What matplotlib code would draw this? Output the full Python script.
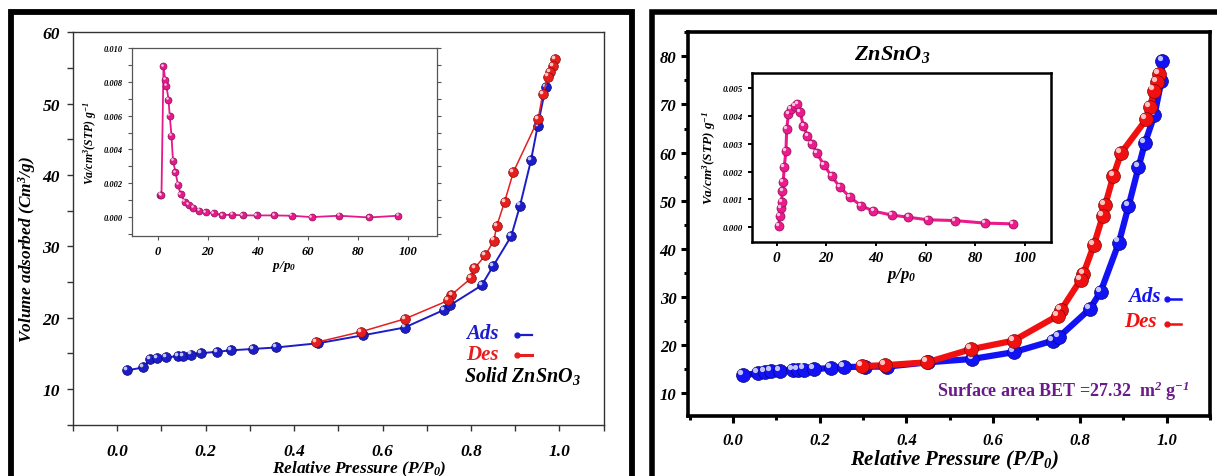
import numpy as np
import matplotlib.pyplot as plt
from matplotlib.transforms import offset_copy
from matplotlib.ticker import MultipleLocator, FormatStrFormatter

plt.rcParams['font.family'] = ['Liberation Serif', 'DejaVu Serif']
plt.rcParams['font.weight'] = 'bold'
plt.rcParams['font.style'] = 'italic'
plt.rcParams['axes.labelweight'] = 'bold'
plt.rcParams['mathtext.fontset'] = 'custom'
plt.rcParams['mathtext.rm'] = 'Liberation Serif:italic:bold'
plt.rcParams['mathtext.it'] = 'Liberation Serif:italic:bold'
plt.rcParams['mathtext.bf'] = 'Liberation Serif:bold'

# ---- solid ZnSnO3 isotherm (left)
solid_ads_p = [0.023, 0.059, 0.075, 0.090, 0.110, 0.137, 0.149, 0.166, 0.189, 0.226, 0.257,
               0.308, 0.359, 0.455, 0.555, 0.650, 0.740, 0.752, 0.824, 0.850, 0.891, 0.911,
               0.936, 0.951, 0.969]
solid_ads_v = [12.6, 13.0, 14.2, 14.3, 14.4, 14.6, 14.65, 14.8, 15.0, 15.2, 15.4,
               15.6, 15.8, 16.4, 17.5, 18.6, 21.1, 21.7, 24.5, 27.2, 31.4, 35.7,
               42.1, 46.9, 52.3]
solid_des_p = [0.991, 0.985, 0.979, 0.975, 0.962, 0.952, 0.896, 0.876, 0.858, 0.852, 0.832,
               0.808, 0.800, 0.756, 0.749, 0.650, 0.551, 0.449]
solid_des_v = [56.2, 55.3, 54.4, 53.8, 51.3, 47.8, 40.4, 36.2, 32.8, 30.8, 28.7,
               26.9, 25.5, 23.2, 22.4, 19.8, 18.0, 16.5]

# pore size distribution of the solid sample (left inset)
solid_psd_x = [1.0, 1.5, 2.3, 3.0, 3.5, 4.3, 4.8, 5.5, 6.1, 7.1, 8.1, 9.2, 10.8, 12.4,
               14.2, 16.6, 19.1, 22.3, 25.7, 29.8, 34.0, 39.5, 46.5, 53.5, 61.5, 72.5,
               84.5, 96.0]
solid_psd_y = [0.00133, 0.00130, 0.00892, 0.00813, 0.00777, 0.00695, 0.00600, 0.00482,
               0.00334, 0.00266, 0.00191, 0.00134, 0.00092, 0.00073, 0.00055, 0.00039,
               0.00029, 0.00023, 0.00012, 0.00014, 0.00010, 0.00010, 0.00010, 0.00008,
               0.00000, 0.00008, -0.00002, 0.00008]

# ---- ZnSnO3 isotherm (right)
zn_ads_p = [0.023, 0.058, 0.073, 0.088, 0.108, 0.138, 0.149, 0.164, 0.186, 0.225, 0.255,
            0.305, 0.355, 0.450, 0.552, 0.647, 0.738, 0.751, 0.823, 0.848, 0.890, 0.912,
            0.935, 0.950, 0.972, 0.988, 0.990]
zn_ads_v = [13.7, 14.15, 14.4, 14.5, 14.6, 14.8, 14.8, 14.9, 15.0, 15.2, 15.4,
            15.5, 15.5, 16.4, 17.1, 18.5, 20.9, 21.6, 27.5, 31.1, 41.3, 48.8,
            56.9, 62.0, 67.8, 74.9, 79.1]
zn_des_p = [0.982, 0.977, 0.971, 0.962, 0.953, 0.895, 0.877, 0.858, 0.853, 0.832, 0.808,
            0.802, 0.756, 0.749, 0.647, 0.548, 0.448, 0.351, 0.298]
zn_des_v = [76.4, 74.6, 72.9, 69.4, 66.9, 59.9, 55.1, 49.0, 46.9, 40.7, 34.8,
            33.6, 27.2, 26.1, 20.9, 19.1, 16.4, 15.8, 15.6]

# pore size distribution (right inset)
zn_psd_x = [0.9, 1.3, 1.7, 2.0, 2.4, 2.7, 3.1, 3.8, 4.1, 4.8, 5.8, 7.4, 8.4, 9.5, 10.8,
            12.4, 14.4, 16.2, 19.1, 22.2, 25.6, 29.6, 34.0, 39.0, 46.3, 53.1, 60.8,
            71.9, 83.8, 95.2]
zn_psd_y = [0.00006, 0.00040, 0.00068, 0.00092, 0.00132, 0.00164, 0.00216, 0.00276,
            0.00354, 0.00408, 0.00426, 0.00435, 0.00442, 0.00414, 0.00366, 0.00330,
            0.00300, 0.00267, 0.00224, 0.00183, 0.00144, 0.00108, 0.00078, 0.00058,
            0.00044, 0.00036, 0.00027, 0.00024, 0.00015, 0.00012]

bet_area = 27.32

W, H = 1217, 477
fig = plt.figure(figsize=(W / 100, H / 100), dpi=100)


def rect(left, top, right, bottom):
    return [left / W, 1 - bottom / H, (right - left) / W, (bottom - top) / H]


def spheres(ax, x, y, color, edge, ms, lw, z):
    ax.plot(x, y, '-', color=color, lw=lw, zorder=z)
    ax.plot(x, y, 'o', ms=ms, color=color, mec=edge, mew=0.5, zorder=z + 0.1)
    shift = offset_copy(ax.transData, fig=fig, x=-ms * 0.2, y=ms * 0.22, units='points')
    ax.plot(x, y, 'o', ms=ms * 0.38, color='white', alpha=0.75, mew=0,
            transform=shift, zorder=z + 0.2)


# outer black frames around the two panels
fig.add_artist(plt.Rectangle((11 / W, -0.1), (632 - 11) / W, 1.1 - 13 / H,
                             transform=fig.transFigure, fill=False, ec='black', lw=4.2))
fig.add_artist(plt.Rectangle((651.5 / W, -0.1), 0.5, 1.1 - 12.5 / H,
                             transform=fig.transFigure, fill=False, ec='black', lw=4))

# ---------------- left panel
ax1 = fig.add_axes(rect(73, 33.3, 603.6, 425.5))
spheres(ax1, solid_ads_p, solid_ads_v, '#1c1cc8', '#0a0a70', 7.0, 1.4, 3)
spheres(ax1, solid_des_p, solid_des_v, '#e61e1e', '#8a0a0a', 7.0, 1.1, 4)
ax1.set_xlim(-0.1, 1.1)
ax1.set_ylim(5, 60)
ax1.xaxis.set_major_locator(MultipleLocator(0.2))
ax1.xaxis.set_minor_locator(MultipleLocator(0.1))
ax1.yaxis.set_major_locator(MultipleLocator(10))
ax1.yaxis.set_minor_locator(MultipleLocator(5))
ax1.xaxis.set_major_formatter(FormatStrFormatter('%.1f'))
for s in ax1.spines.values():
    s.set_linewidth(1.0)
    s.set_color('#333333')
ax1.tick_params(which='both', direction='out', width=1.0, color='#333333', labelsize=12.5)
ax1.tick_params(which='both', length=4.5)
ax1.tick_params(axis='x', pad=9)
ax1.tick_params(axis='y', pad=5)
ax1.set_xlabel('Relative Pressure (P/P$_0$)', fontsize=12.5)
ax1.xaxis.set_label_coords(0.54, -0.087)
ax1.set_ylabel('Volume adsorbed (Cm$^3$/g)', fontsize=12.5)
ax1.yaxis.set_label_coords(-0.066, 0.45)

ax1.text(0.789, 17.8, 'Ads', color='#1c1cc8', fontsize=15, va='center')
ax1.text(0.789, 14.9, 'Des', color='#e61e1e', fontsize=15, va='center')
ax1.text(0.784, 12.0, 'Solid ZnSnO$_3$', color='black', fontsize=14.5, va='center')
ax1.plot([0.905, 0.937], [17.6, 17.6], color='#1c1cc8', lw=1.6)
ax1.plot([0.905], [17.6], 'o', ms=3.5, color='#1c1cc8')
ax1.plot([0.905, 0.937], [14.8, 14.8], color='#e61e1e', lw=2.2)
ax1.plot([0.905], [14.8], 'o', ms=3.5, color='#e61e1e')

ins1 = fig.add_axes(rect(131.7, 49, 436.7, 236.7))
spheres(ins1, solid_psd_x, solid_psd_y, '#e5198a', '#8a0f55', 5.0, 1.3, 3)
ins1.set_xlim(-10.4, 111.5)
ins1.set_ylim(-0.0011, 0.010)
ins1.xaxis.set_major_locator(MultipleLocator(20))
ins1.yaxis.set_major_locator(MultipleLocator(0.002))
ins1.yaxis.set_minor_locator(MultipleLocator(0.001))
ins1.yaxis.set_major_formatter(FormatStrFormatter('%.3f'))
for s in ins1.spines.values():
    s.set_linewidth(0.9)
    s.set_color('#555555')
ins1.tick_params(which='both', direction='out', width=0.8, color='#555555', length=3)
ins1.tick_params(axis='y', labelsize=6)
ins1.tick_params(axis='x', labelsize=9)
ins1.tick_params(axis='y', which='both', right=True)
ins1.set_xlabel('p/p$_0$', fontsize=9.5, labelpad=1)
ins1.set_ylabel('Va/cm$^3$(STP) g$^{-1}$', fontsize=8.5, labelpad=3)

# ---------------- right panel
ax2 = fig.add_axes(rect(688.3, 33.3, 1210, 416.7))
spheres(ax2, zn_ads_p, zn_ads_v, '#1212f5', '#06067a', 10, 4.5, 3)
spheres(ax2, zn_des_p, zn_des_v, '#f01010', '#820606', 10, 4.5, 4)
ax2.set_xlim(-0.103, 1.1)
ax2.set_ylim(5.3, 85)
ax2.xaxis.set_major_locator(MultipleLocator(0.2))
ax2.xaxis.set_minor_locator(MultipleLocator(0.1))
ax2.yaxis.set_major_locator(MultipleLocator(10))
ax2.yaxis.set_minor_locator(MultipleLocator(5))
ax2.xaxis.set_major_formatter(FormatStrFormatter('%.1f'))
for s in ax2.spines.values():
    s.set_linewidth(2.6)
    s.set_color('black')
ax2.tick_params(which='both', direction='out', width=2.2, labelsize=12)
ax2.tick_params(which='major', length=5)
ax2.tick_params(which='minor', length=3)
ax2.tick_params(axis='x', pad=7)
ax2.set_xlabel('Relative Pressure (P/P$_0$)', fontsize=15)
ax2.xaxis.set_label_coords(0.51, -0.085)

ax2.text(0.366, 80.5, 'ZnSnO$_3$', fontsize=16, ha='center', va='center')
ax2.text(0.912, 30.2, 'Ads', color='#1212f5', fontsize=15, va='center')
ax2.text(0.903, 25.0, 'Des', color='#f01010', fontsize=15, va='center')
ax2.plot([1.0, 1.033], [29.6, 29.6], color='#1212f5', lw=1.8)
ax2.plot([1.0], [29.6], 'o', ms=3.5, color='#1212f5')
ax2.plot([1.0, 1.033], [24.4, 24.4], color='#f01010', lw=1.8)
ax2.plot([1.0], [24.4], 'o', ms=3.5, color='#f01010')
ax2.text(0.47, 10.6, 'Surface area BET =%.2f  m$^{\\mathbf{2}}$ g$^{\\mathbf{-1}}$' % bet_area,
         color='#6a1a8a', fontsize=13, fontstyle='normal', va='center')

ins2 = fig.add_axes(rect(751.7, 74, 1050.7, 242.7))
spheres(ins2, zn_psd_x, zn_psd_y, '#ec1a8c', '#8a0f55', 6.5, 2.2, 3)
ins2.set_xlim(-10, 110.4)
ins2.set_ylim(-0.00052, 0.00555)
ins2.xaxis.set_major_locator(MultipleLocator(20))
ins2.yaxis.set_major_locator(MultipleLocator(0.001))
ins2.yaxis.set_major_formatter(FormatStrFormatter('%.3f'))
for s in ins2.spines.values():
    s.set_linewidth(1.8)
    s.set_color('black')
ins2.tick_params(which='both', direction='out', width=1.4, length=3)
ins2.tick_params(axis='y', labelsize=6.5)
ins2.tick_params(axis='x', labelsize=11)
ins2.set_xlabel('p/p$_0$', fontsize=12, labelpad=1)
ins2.set_ylabel('Va/cm$^3$(STP) g$^{-1}$', fontsize=9.5, labelpad=3)

fig.savefig('out.png', dpi=100)
